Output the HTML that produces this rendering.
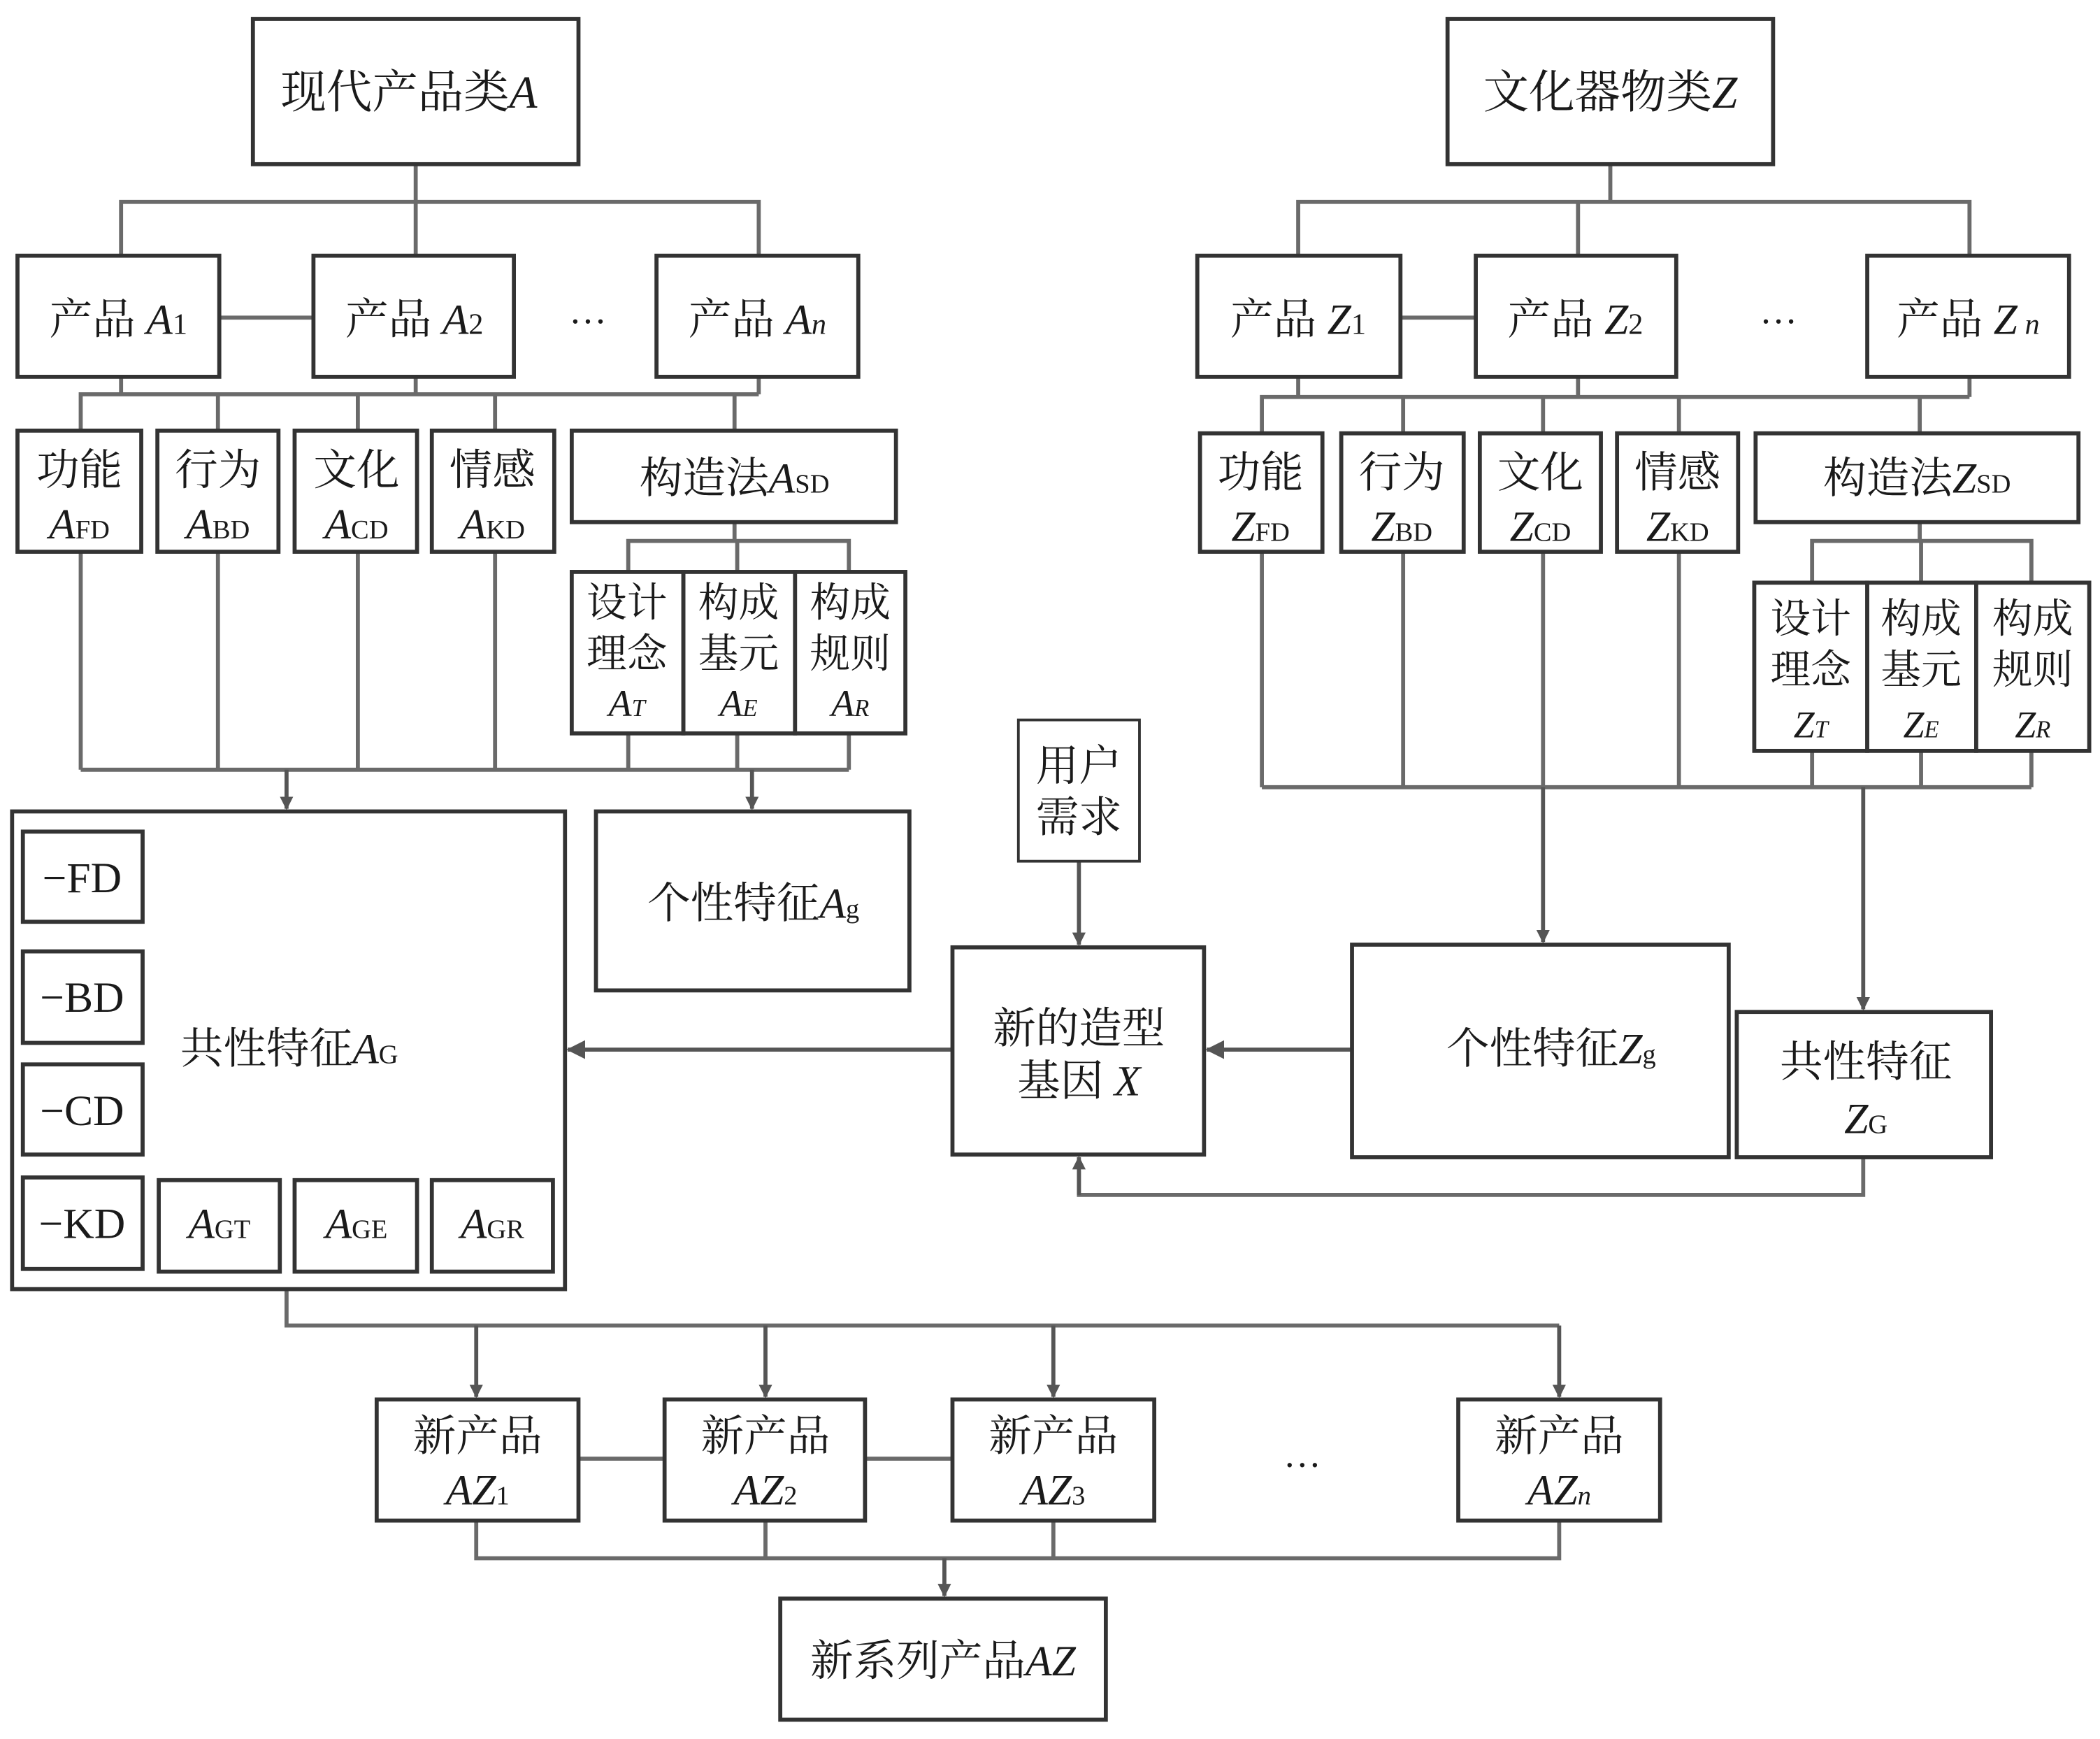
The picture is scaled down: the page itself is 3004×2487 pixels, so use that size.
<!DOCTYPE html>
<html><head><meta charset="utf-8"><style>
html,body{margin:0;padding:0;background:#fff}
svg{display:block}
text{font-family:"Liberation Serif","Noto Serif CJK SC",serif;fill:#1a1a1a}
.i{font-style:italic}
</style></head><body>
<svg width="3004" height="2487" viewBox="0 0 1561 1292.3" xmlns="http://www.w3.org/2000/svg">
<defs>
<marker id="ar" markerWidth="10" markerHeight="10" refX="9" refY="5" orient="auto" markerUnits="userSpaceOnUse"><path d="M0,0 L10,5 L0,10 Z" fill="#555"/></marker>
<marker id="ar2" markerWidth="14" markerHeight="14" refX="13" refY="7" orient="auto" markerUnits="userSpaceOnUse"><path d="M0,0 L14,7 L0,14 Z" fill="#555"/></marker>
</defs>
<g fill="none" stroke="#6a6a6a" stroke-width="3">
<!-- left top tree -->
<path d="M309,122V150 M90,190V150H564V190 M309,150V190 M163,236H233"/>
<path d="M90,280V293 M309,280V293 M564,280V293 M60,320V293H564 M162,293V320 M266,293V320 M368,293V320 M546,293V320"/>
<path d="M546,388V402 M467,425V402H631V425 M548,402V425"/>
<path d="M60,410V572 M162,410V572 M266,410V572 M368,410V572 M467,545V572 M548,545V572 M631,545V572 M60,572H631"/>
<!-- right tree -->
<path d="M1197,122V150 M965,190V150H1464V190 M1173,150V190 M1041,236H1097"/>
<path d="M965,280V295 M1173,280V295 M1464,280V295 M938,322V295H1464 M1043,295V322 M1147,295V322 M1248,295V322 M1427,295V322"/>
<path d="M1427,388V402 M1347,433V402H1510V433 M1428,402V433"/>
<path d="M938,410V585 M1043,410V585 M1147,410V585 M1248,410V585 M1347,558V585 M1428,558V585 M1510,558V585 M938,585H1510"/>
<!-- feedback -->
<path d="M1385,860V888H802V870"/>
<!-- bottom -->
<path d="M213,958V985H1159 M430,1084H494 M643,1084H708 M354,1130V1158H1159V1130 M569,1130V1158 M783,1130V1158"/>
</g>
<g stroke="#555" stroke-width="3" fill="none">
<path d="M213,572V601" marker-end="url(#ar)"/>
<path d="M559,572V601" marker-end="url(#ar)"/>
<path d="M802,640V702" marker-end="url(#ar)"/>
<path d="M1147,585V700" marker-end="url(#ar)"/>
<path d="M1385,585V750" marker-end="url(#ar)"/>
<path d="M802,888V860" marker-end="url(#ar)"/>
<path d="M1005,780H897" marker-end="url(#ar2)"/>
<path d="M708,780H422" marker-end="url(#ar2)"/>
<path d="M354,985V1038" marker-end="url(#ar)"/>
<path d="M569,985V1038" marker-end="url(#ar)"/>
<path d="M783,985V1038" marker-end="url(#ar)"/>
<path d="M1159,985V1038" marker-end="url(#ar)"/>
<path d="M702,1158V1186" marker-end="url(#ar)"/>
</g>
<g fill="#fff" stroke="#333" stroke-width="3">
<rect x="188" y="14" width="242" height="108"/>
<rect x="13" y="190" width="150" height="90"/><rect x="233" y="190" width="149" height="90"/><rect x="488" y="190" width="150" height="90"/>
<rect x="13" y="320" width="92" height="90"/><rect x="117" y="320" width="90" height="90"/><rect x="219" y="320" width="91" height="90"/><rect x="321" y="320" width="91" height="90"/><rect x="425" y="320" width="241" height="68"/>
<rect x="425" y="425" width="83" height="120"/><rect x="508" y="425" width="83" height="120"/><rect x="591" y="425" width="82" height="120"/>
<rect x="9" y="603" width="411" height="355"/>
<rect x="17" y="618" width="89" height="67"/><rect x="17" y="707" width="89" height="68"/><rect x="17" y="791" width="89" height="67"/><rect x="17" y="875" width="89" height="68"/>
<rect x="118" y="877" width="90" height="68"/><rect x="219" y="877" width="91" height="68"/><rect x="321" y="877" width="90" height="68"/>
<rect x="443" y="603" width="233" height="133"/>
<rect x="757" y="535" width="90" height="105" stroke-width="2"/>
<rect x="708" y="704" width="187" height="154"/>
<rect x="1005" y="702" width="280" height="158"/>
<rect x="1291" y="752" width="189" height="108"/>
<rect x="1076" y="14" width="242" height="108"/>
<rect x="890" y="190" width="151" height="90"/><rect x="1097" y="190" width="149" height="90"/><rect x="1388" y="190" width="150" height="90"/>
<rect x="892" y="322" width="91" height="88"/><rect x="997" y="322" width="91" height="88"/><rect x="1100" y="322" width="90" height="88"/><rect x="1202" y="322" width="90" height="88"/><rect x="1305" y="322" width="240" height="66"/>
<rect x="1304" y="433" width="84" height="125"/><rect x="1388" y="433" width="81" height="125"/><rect x="1469" y="433" width="84" height="125"/>
<rect x="280" y="1040" width="150" height="90"/><rect x="494" y="1040" width="149" height="90"/><rect x="708" y="1040" width="150" height="90"/><rect x="1084" y="1040" width="150" height="90"/>
<rect x="580" y="1188" width="242" height="90"/>
</g>
<g font-size="34" text-anchor="middle">
<text x="304" y="80">现代产品类<tspan class="i">A</tspan></text>
<text x="1197" y="80">文化器物类<tspan class="i">Z</tspan></text>
<text x="88" y="248" font-size="32">产品<tspan class="i"> A</tspan><tspan font-size="22">1</tspan></text>
<text x="308" y="248" font-size="32">产品<tspan class="i"> A</tspan><tspan font-size="22">2</tspan></text>
<text x="563" y="248" font-size="32">产品<tspan class="i"> A</tspan><tspan class="i" font-size="22">n</tspan></text>
<text x="437" y="240" font-size="28">…</text>
<text x="965" y="248" font-size="32">产品<tspan class="i"> Z</tspan><tspan font-size="22">1</tspan></text>
<text x="1171" y="248" font-size="32">产品<tspan class="i"> Z</tspan><tspan font-size="22">2</tspan></text>
<text x="1463" y="248" font-size="32">产品<tspan class="i"> Z</tspan><tspan class="i" font-size="22"> n</tspan></text>
<text x="1322" y="240" font-size="28">…</text>
</g>
<g font-size="32" text-anchor="middle">
<text x="59" y="360">功能</text><text x="59" y="400"><tspan class="i">A</tspan><tspan font-size="20">FD</tspan></text>
<text x="162" y="360">行为</text><text x="162" y="400"><tspan class="i">A</tspan><tspan font-size="20">BD</tspan></text>
<text x="265" y="360">文化</text><text x="265" y="400"><tspan class="i">A</tspan><tspan font-size="20">CD</tspan></text>
<text x="366" y="360">情感</text><text x="366" y="400"><tspan class="i">A</tspan><tspan font-size="20">KD</tspan></text>
<text x="546" y="366">构造法<tspan class="i">A</tspan><tspan font-size="20">SD</tspan></text>
<text x="466" y="458" font-size="30">设计</text><text x="466" y="496" font-size="30">理念</text><text x="466" y="532" font-size="28"><tspan class="i">A<tspan font-size="18">T</tspan></tspan></text>
<text x="549" y="458" font-size="30">构成</text><text x="549" y="496" font-size="30">基元</text><text x="549" y="532" font-size="28"><tspan class="i">A<tspan font-size="18">E</tspan></tspan></text>
<text x="632" y="458" font-size="30">构成</text><text x="632" y="496" font-size="30">规则</text><text x="632" y="532" font-size="28"><tspan class="i">A<tspan font-size="18">R</tspan></tspan></text>
<text x="937" y="362">功能</text><text x="937" y="402"><tspan class="i">Z</tspan><tspan font-size="20">FD</tspan></text>
<text x="1042" y="362">行为</text><text x="1042" y="402"><tspan class="i">Z</tspan><tspan font-size="20">BD</tspan></text>
<text x="1145" y="362">文化</text><text x="1145" y="402"><tspan class="i">Z</tspan><tspan font-size="20">CD</tspan></text>
<text x="1247" y="362">情感</text><text x="1247" y="402"><tspan class="i">Z</tspan><tspan font-size="20">KD</tspan></text>
<text x="1425" y="366">构造法<tspan class="i">Z</tspan><tspan font-size="20">SD</tspan></text>
<text x="1346" y="470" font-size="30">设计</text><text x="1346" y="508" font-size="30">理念</text><text x="1346" y="548" font-size="28"><tspan class="i">Z<tspan font-size="18">T</tspan></tspan></text>
<text x="1428" y="470" font-size="30">构成</text><text x="1428" y="508" font-size="30">基元</text><text x="1428" y="548" font-size="28"><tspan class="i">Z<tspan font-size="18">E</tspan></tspan></text>
<text x="1511" y="470" font-size="30">构成</text><text x="1511" y="508" font-size="30">规则</text><text x="1511" y="548" font-size="28"><tspan class="i">Z<tspan font-size="18">R</tspan></tspan></text>
<text x="61" y="663">−FD</text><text x="61" y="752">−BD</text><text x="61" y="836">−CD</text><text x="61" y="920">−KD</text>
<text x="163" y="920"><tspan class="i">A</tspan><tspan font-size="20">GT</tspan></text>
<text x="265" y="920"><tspan class="i">A</tspan><tspan font-size="20">GE</tspan></text>
<text x="366" y="920"><tspan class="i">A</tspan><tspan font-size="20">GR</tspan></text>
<text x="215" y="790">共性特征<tspan class="i">A</tspan><tspan font-size="20">G</tspan></text>
<text x="560" y="682">个性特征<tspan class="i">A</tspan><tspan font-size="20">g</tspan></text>
<text x="802" y="580">用户</text><text x="802" y="618">需求</text>
<text x="802" y="775">新的造型</text><text x="802" y="814">基因<tspan class="i"> X</tspan></text>
<text x="1153" y="790">个性特征<tspan class="i">Z</tspan><tspan font-size="20">g</tspan></text>
<text x="1387" y="800">共性特征</text><text x="1387" y="842"><tspan class="i">Z</tspan><tspan font-size="20">G</tspan></text>
<text x="355" y="1078">新产品</text><text x="355" y="1118"><tspan class="i">AZ</tspan><tspan font-size="20">1</tspan></text>
<text x="569" y="1078">新产品</text><text x="569" y="1118"><tspan class="i">AZ</tspan><tspan font-size="20">2</tspan></text>
<text x="783" y="1078">新产品</text><text x="783" y="1118"><tspan class="i">AZ</tspan><tspan font-size="20">3</tspan></text>
<text x="1159" y="1078">新产品</text><text x="1159" y="1118"><tspan class="i">AZ</tspan><tspan class="i" font-size="20">n</tspan></text>
<text x="968" y="1090" font-size="28">…</text>
<text x="701" y="1245">新系列产品<tspan class="i">AZ</tspan></text>
</g>
</svg>
</body></html>
